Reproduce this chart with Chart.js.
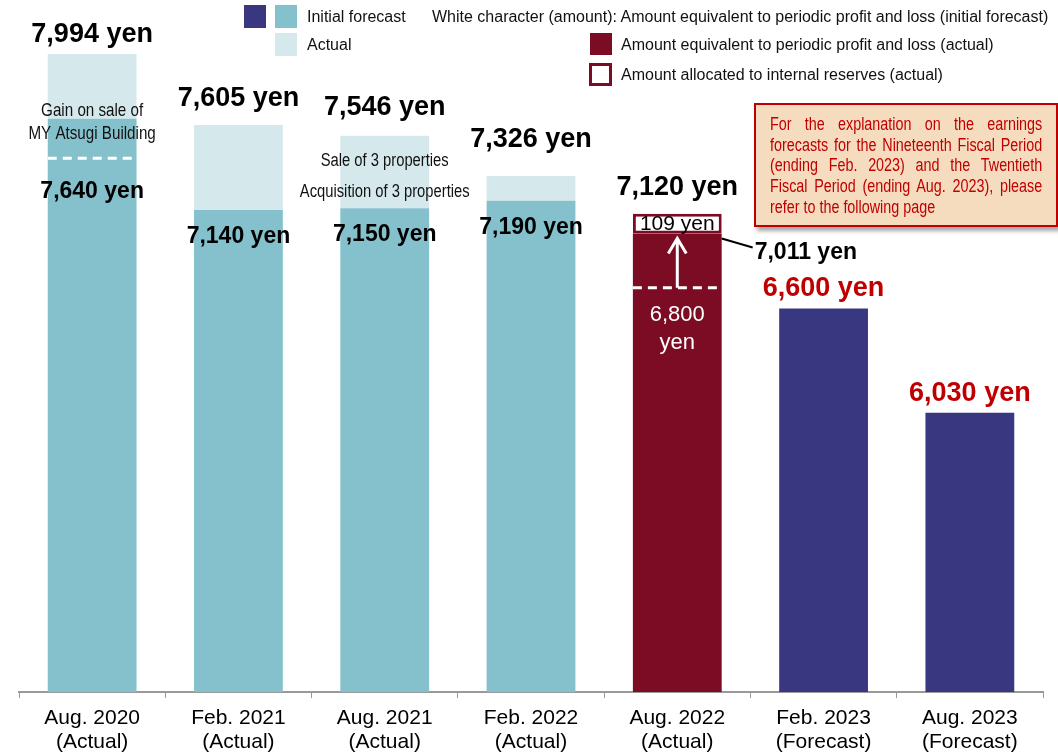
<!DOCTYPE html>
<html>
<head>
<meta charset="utf-8">
<script src="https://cdn.jsdelivr.net/npm/chart.js@4"></script>
<style>
  body { margin: 0; background: #fff; font-family: "Liberation Sans", Arial, sans-serif; }
  #wrap { position: relative; width: 1058px; height: 753px; }
  canvas { position: absolute; left: 0; top: 0; }
  .sq { position: absolute; width: 22px; height: 23px; }
  .lg { position: absolute; font-size: 16px; color: #111; line-height: 18px; white-space: nowrap; }
  #note {
    position: absolute; left: 754px; top: 103px; width: 272px; height: 104px;
    padding: 9px 14px 7px 14px;
    background: #f6dcbf; border: 2px solid #c00000;
    box-shadow: 3px 4px 4px rgba(0,0,0,0.35);
    overflow: hidden;
  }
  #note div {
    width: 332px; transform: scaleX(0.82); transform-origin: 0 0;
    color: #c00000; font-size: 17.5px; line-height: 20.7px;
    text-align: justify; text-align-last: left;
  }
</style>
</head>
<body>
<div id="wrap">
  <canvas id="canvas" width="1058" height="753"></canvas>

  <div class="sq" style="left:244px;top:5px;background:#393780"></div>
  <div class="sq" style="left:275px;top:5px;background:#85c1cc"></div>
  <div class="sq" style="left:275px;top:33px;background:#d5e9ed"></div>
  <div class="lg" style="left:307px;top:8px">Initial forecast</div>
  <div class="lg" style="left:307px;top:36px">Actual</div>
  <div class="lg" style="left:432px;top:8px">White character (amount): Amount equivalent to periodic profit and loss (initial forecast)</div>
  <div class="sq" style="left:590px;top:33px;height:22px;background:#7b0c24"></div>
  <div class="sq" style="left:589px;top:63px;width:17px;height:17px;border:3px solid #7b0c24;background:#fff"></div>
  <div class="lg" style="left:621px;top:36px">Amount equivalent to periodic profit and loss (actual)</div>
  <div class="lg" style="left:621px;top:66px">Amount allocated to internal reserves (actual)</div>

  <div id="note"><div>For the explanation on the earnings forecasts for the Nineteenth Fiscal Period (ending Feb. 2023) and the Twentieth Fiscal Period (ending Aug. 2023), please refer to the following page</div></div>
</div>

<script>
// periods on the x axis
const categories = [
  ['Aug. 2020', '(Actual)'],
  ['Feb. 2021', '(Actual)'],
  ['Aug. 2021', '(Actual)'],
  ['Feb. 2022', '(Actual)'],
  ['Aug. 2022', '(Actual)'],
  ['Feb. 2023', '(Forecast)'],
  ['Aug. 2023', '(Forecast)']
];

// distribution per unit (yen)
const initialForecast = [7640, 7140, 7150, 7190, null, null, null];
const actualTotal     = [7994, 7605, 7546, 7326, null, null, null];
const profitActual    = [null, null, null, null, 7011, null, null];
const internalReserve = [null, null, null, null, 109, null, null];
const forecastNext    = [null, null, null, null, null, 6600, 6030];

// dashed marker levels inside bars
const dashLevels = [7423, null, null, null, 6714, null, null];
const forecastAug2022 = 6800;

const actualExtra = actualTotal.map((t, i) => t == null ? null : t - initialForecast[i]);
const yen = v => v.toLocaleString('en-US') + ' yen';

const TEAL = '#85c1cc', LIGHT = '#d5e9ed', NAVY = '#393780', MAROON = '#7b0c24', RED = '#c00000';
const arial = '"Liberation Sans", Arial, sans-serif';

// label offsets (px) above each bar top
const topLift = [19, 27, 28, 36, 26, 20, 19];

// condensed text (no narrow font installed)
function narrowText(ctx, text, cx, cy, size) {
  ctx.save();
  ctx.translate(cx, cy);
  ctx.scale(0.82, 1);
  ctx.font = size + 'px ' + arial;
  ctx.fillText(text, 0, 0);
  ctx.restore();
}

const annotations = {
  id: 'annotations',
  afterDatasetsDraw(chart) {
    const { ctx } = chart;
    const x = chart.scales.x, y = chart.scales.y;
    const barW = chart.getDatasetMeta(0).data[0].width;
    ctx.save();
    ctx.textAlign = 'center';
    ctx.textBaseline = 'middle';

    categories.forEach((c, i) => {
      const cx = x.getPixelForValue(i);
      let total = actualTotal[i];
      let color = '#000';
      if (profitActual[i] != null) total = profitActual[i] + internalReserve[i];
      if (forecastNext[i] != null) { total = forecastNext[i]; color = RED; }
      ctx.font = 'bold 27px ' + arial;
      ctx.fillStyle = color;
      ctx.fillText(yen(total), cx, y.getPixelForValue(total) - topLift[i]);

      if (initialForecast[i] != null) {
        ctx.font = 'bold 23px ' + arial;
        ctx.fillStyle = '#000';
        const drop = i === 0 ? 73 : 27;
        ctx.fillText(yen(initialForecast[i]), cx, y.getPixelForValue(initialForecast[i]) + drop);
      }

      if (dashLevels[i] != null) {
        const dy = y.getPixelForValue(dashLevels[i]);
        ctx.strokeStyle = '#fff';
        ctx.lineWidth = 3;
        ctx.setLineDash([9, 6]);
        ctx.beginPath();
        ctx.moveTo(cx - barW / 2, dy);
        ctx.lineTo(cx + barW / 2 - 2, dy);
        ctx.stroke();
        ctx.setLineDash([]);
      }
    });

    // Aug. 2022 details
    const i = 4;
    const cx = x.getPixelForValue(i);
    const dashY = y.getPixelForValue(dashLevels[i]);
    const topProfit = y.getPixelForValue(profitActual[i]);
    ctx.strokeStyle = '#fff';
    ctx.fillStyle = '#fff';
    ctx.lineWidth = 3;
    ctx.beginPath();
    ctx.moveTo(cx, dashY);
    ctx.lineTo(cx, topProfit + 6);
    ctx.moveTo(cx - 9, topProfit + 20);
    ctx.lineTo(cx, topProfit + 5);
    ctx.lineTo(cx + 9, topProfit + 20);
    ctx.stroke();
    ctx.font = '22px ' + arial;
    ctx.fillText(forecastAug2022.toLocaleString('en-US'), cx, dashY + 27);
    ctx.fillText('yen', cx, dashY + 55);

    const resTop = y.getPixelForValue(profitActual[i] + internalReserve[i]);
    ctx.fillStyle = '#000';
    ctx.font = '21px ' + arial;
    ctx.fillText(yen(internalReserve[i]), cx, (resTop + topProfit) / 2 + 1);

    ctx.strokeStyle = '#000';
    ctx.lineWidth = 2;
    ctx.beginPath();
    ctx.moveTo(cx + barW / 2, topProfit + 5);
    ctx.lineTo(cx + barW / 2 + 31, topProfit + 14);
    ctx.stroke();
    ctx.textAlign = 'left';
    ctx.font = 'bold 23px ' + arial;
    ctx.fillText(yen(profitActual[i]), cx + barW / 2 + 33, topProfit + 19);

    // notes
    ctx.textAlign = 'center';
    ctx.fillStyle = '#111';
    const x0 = x.getPixelForValue(0);
    narrowText(ctx, 'Gain on sale of', x0, 111, 18.5);
    narrowText(ctx, 'MY Atsugi Building', x0, 134, 18.5);
    const x2 = x.getPixelForValue(2);
    narrowText(ctx, 'Sale of 3 properties', x2, 161, 18);
    narrowText(ctx, 'Acquisition of 3 properties', x2, 192, 18);
    ctx.restore();
  }
};

const stackCommon = { stack: 's', barPercentage: 0.607, categoryPercentage: 1, borderWidth: 0 };

new Chart(document.getElementById('canvas').getContext('2d'), {
  type: 'bar',
  data: {
    labels: categories,
    datasets: [
      { label: 'Initial forecast', data: initialForecast, backgroundColor: TEAL, ...stackCommon },
      { label: 'Actual', data: actualExtra, backgroundColor: LIGHT, ...stackCommon },
      { label: 'Profit and loss (actual)', data: profitActual, backgroundColor: MAROON, ...stackCommon },
      { label: 'Internal reserves (actual)', data: internalReserve, backgroundColor: '#fff',
        ...stackCommon, borderColor: MAROON, borderWidth: 3, borderSkipped: false },
      { label: 'Forecast', data: forecastNext, backgroundColor: NAVY, ...stackCommon }
    ]
  },
  options: {
    responsive: false,
    animation: false,
    layout: { padding: { left: 19, right: 15, top: 0, bottom: 0 } },
    plugins: { legend: { display: false }, tooltip: { enabled: false } },
    scales: {
      x: {
        stacked: true,
        grid: { display: true, drawOnChartArea: false, drawTicks: true, tickLength: 6, color: '#999', offset: true },
        border: { display: true, color: '#999', width: 2 },
        ticks: { color: '#000', font: { size: 21, family: arial, lineHeight: 1.15 }, padding: 8, maxRotation: 0 },
        afterFit(scale) { scale.height = 61; }
      },
      y: { stacked: true, display: false, min: 4500, max: 8290 }
    }
  },
  plugins: [annotations]
});
</script>
</body>
</html>
